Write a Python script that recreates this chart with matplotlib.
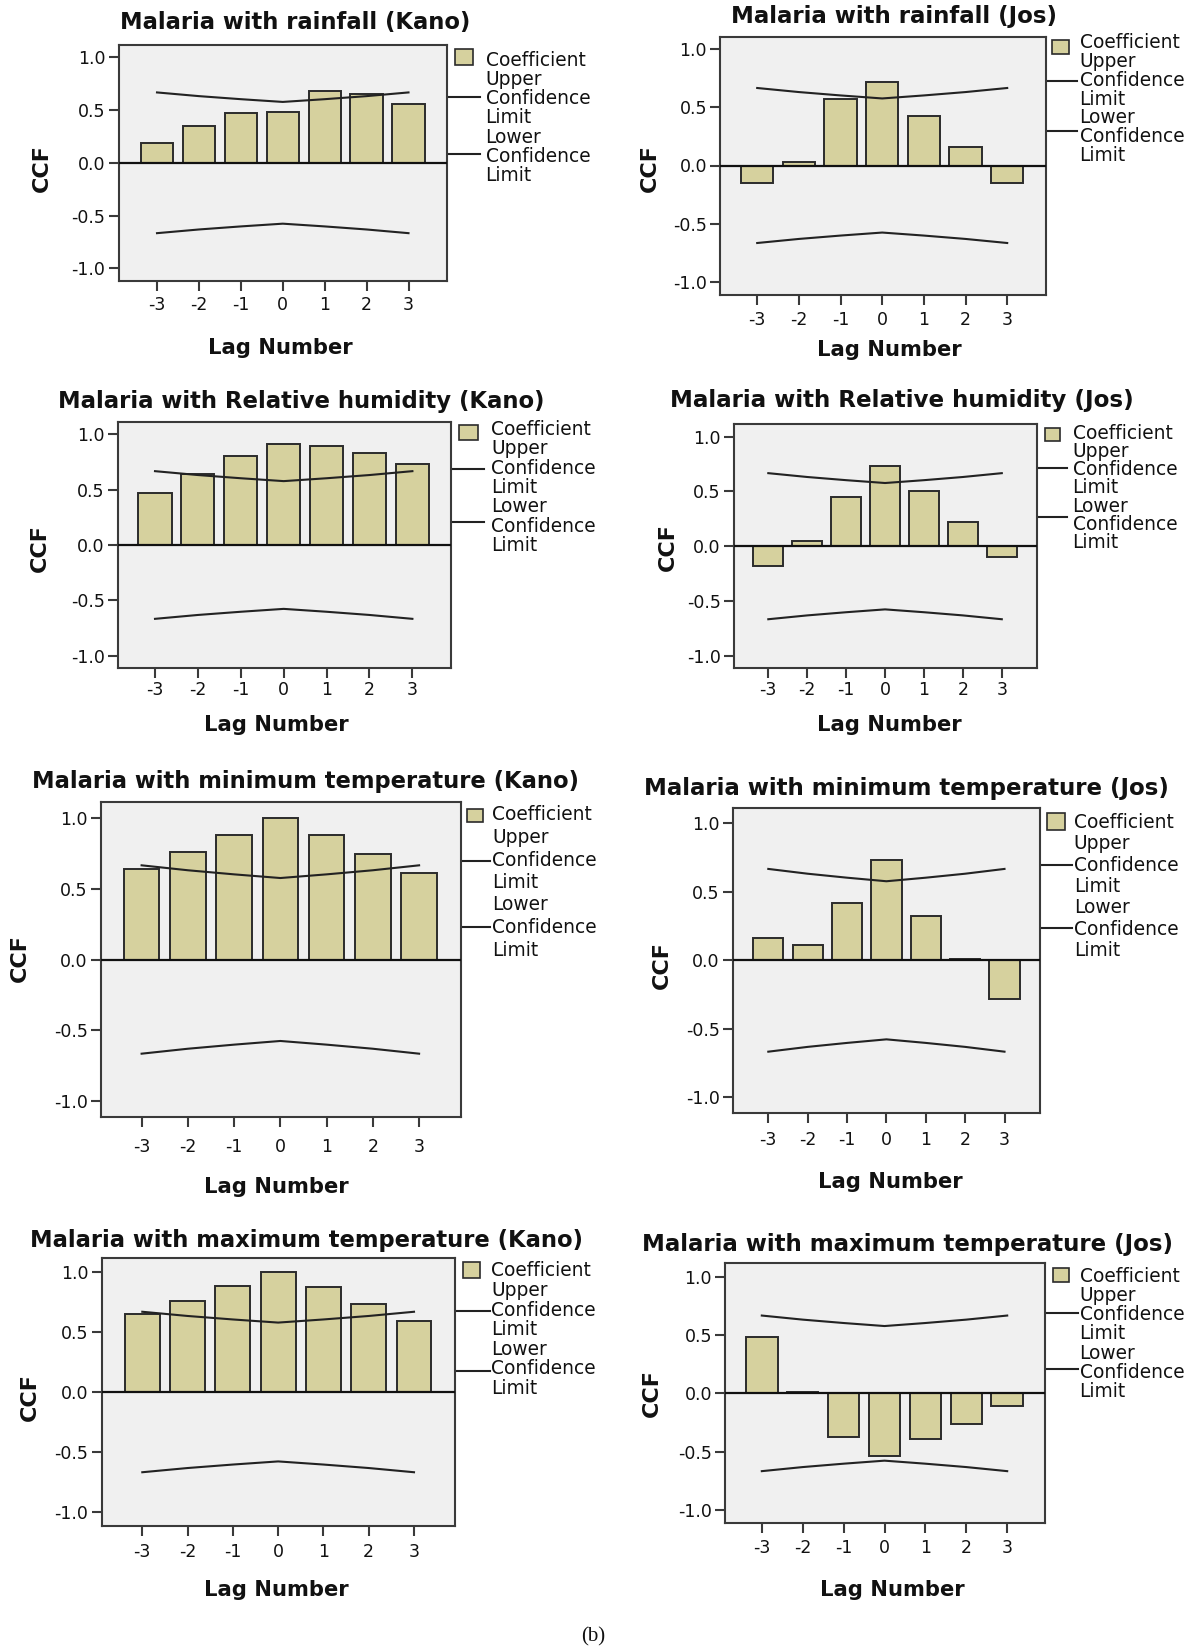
import numpy as np
import matplotlib.pyplot as plt
from matplotlib.patches import Rectangle

W, H = 1204, 1650

lags = [-3, -2, -1, 0, 1, 2, 3]
upper_limit = [0.667, 0.632, 0.603, 0.577, 0.603, 0.632, 0.667]
lower_limit = [-0.667, -0.632, -0.603, -0.577, -0.603, -0.632, -0.667]

rain_kano = [0.19, 0.35, 0.47, 0.48, 0.68, 0.65, 0.56]
rain_jos = [-0.15, 0.03, 0.57, 0.72, 0.43, 0.16, -0.15]
rh_kano = [0.47, 0.64, 0.80, 0.91, 0.89, 0.83, 0.73]
rh_jos = [-0.18, 0.05, 0.45, 0.73, 0.50, 0.22, -0.10]
tmin_kano = [0.64, 0.76, 0.88, 1.00, 0.88, 0.75, 0.61]
tmin_jos = [0.16, 0.11, 0.42, 0.73, 0.32, 0.01, -0.28]
tmax_kano = [0.65, 0.76, 0.88, 1.00, 0.87, 0.73, 0.59]
tmax_jos = [0.48, 0.01, -0.37, -0.54, -0.39, -0.26, -0.11]

titles = [
    "Malaria with rainfall (Kano)",
    "Malaria with rainfall (Jos)",
    "Malaria with Relative humidity (Kano)",
    "Malaria with Relative humidity (Jos)",
    "Malaria with minimum temperature (Kano)",
    "Malaria with minimum temperature (Jos)",
    "Malaria with maximum temperature (Kano)",
    "Malaria with maximum temperature (Jos)",
]
series = [rain_kano, rain_jos, rh_kano, rh_jos, tmin_kano, tmin_jos, tmax_kano, tmax_jos]

y_ticks = [-1.0, -0.5, 0.0, 0.5, 1.0]
y_ticklabels = ["-1.0", "-0.5", "0.0", "0.5", "1.0"]
legend_labels = ["Coefficient", "Upper", "Confidence", "Limit", "Lower", "Confidence", "Limit"]

# panel geometry in pixels
# frame: left, top, right, bottom; anchors: x of lag -3, x of lag 3, y of 1.0, y of -1.0
frames = [
    (118.6, 45.0, 446.8, 281.0, 157.0, 408.5, 57.3, 268.3),
    (720.2, 37.0, 1045.7, 295.0, 757.2, 1007.2, 49.3, 281.7),
    (117.8, 421.7, 451.5, 667.7, 155.0, 412.4, 434.3, 655.7),
    (733.7, 424.3, 1037.2, 667.7, 768.3, 1001.8, 436.7, 655.7),
    (100.8, 802.3, 460.6, 1117.3, 141.6, 419.1, 818.3, 1100.7),
    (732.9, 808.3, 1040.3, 1112.7, 768.3, 1004.5, 823.3, 1097.3),
    (101.6, 1258.3, 454.7, 1525.7, 142.3, 414.0, 1271.7, 1512.3),
    (725.2, 1262.7, 1044.9, 1523.3, 761.8, 1007.2, 1276.7, 1510.0),
]
# title x, y, width; CCF x, y; "Lag Number" x, y; x tick label y
texts = [
    (295.6, 22.0, 350, 41.5, 168.0, 280.7, 348.0, 303.0),
    (893.9, 17.0, 327, 650.0, 168.0, 888.9, 350.0, 318.0),
    (301.0, 401.7, 487, 39.5, 548.0, 276.8, 725.0, 688.0),
    (902.0, 400.0, 467, 667.4, 546.7, 888.9, 725.0, 688.0),
    (305.0, 781.7, 548, 20.0, 958.0, 276.0, 1187.0, 1145.0),
    (906.2, 788.3, 528, 661.6, 965.0, 890.8, 1181.7, 1138.0),
    (307.0, 1240.0, 555, 29.7, 1396.7, 276.8, 1590.0, 1550.0),
    (907.2, 1245.0, 533, 652.0, 1393.0, 892.8, 1590.0, 1546.0),
]
# legend: swatch x0, x1, y0, y1; text x, first line y, line step; line end x, upper y, lower y
legends = [
    (454.7, 472.5, 49.0, 65.0, 485.6, 60.0, 19.3, 480.4, 97.0, 154.0),
    (1051.5, 1068.8, 40.0, 54.0, 1079.6, 42.7, 18.8, 1076.5, 80.7, 131.0),
    (458.7, 478.4, 425.0, 440.0, 491.0, 429.3, 19.4, 484.4, 469.0, 521.7),
    (1044.9, 1060.3, 427.7, 441.0, 1072.6, 433.3, 18.2, 1066.9, 467.7, 516.7),
    (467.4, 483.2, 809.0, 821.7, 492.3, 815.0, 22.5, 490.3, 860.7, 926.7),
    (1046.8, 1064.9, 813.3, 830.0, 1073.8, 822.3, 21.4, 1071.9, 865.0, 928.3),
    (462.6, 480.4, 1261.7, 1277.7, 491.0, 1271.0, 19.6, 490.3, 1311.0, 1371.0),
    (1052.6, 1068.8, 1267.7, 1281.7, 1079.6, 1276.0, 19.3, 1077.6, 1313.3, 1369.3),
]

bar_color = "#D6D19E"
edge = "#2b2b2b"
frame_color = "#3a3a3a"
plot_bg = "#F0F0F0"

plt.rcParams["font.family"] = "DejaVu Sans"

fig = plt.figure(figsize=(W / 100, H / 100), dpi=100)
fig.patch.set_facecolor("white")

# overlay in pixel coordinates for titles, axis names and legends
ov = fig.add_axes([0, 0, 1, 1])
ov.set_xlim(0, W)
ov.set_ylim(H, 0)
ov.axis("off")

renderer = fig.canvas.get_renderer()

for i in range(8):
    L, T, R, B, xm3, x3, y1, ym1 = frames[i]
    tx, ty, tw, cx, cy, lx, ly, tly = texts[i]
    sx0, sx1, sy0, sy1, ltx, lty, lstep, lx1, uy, lwy = legends[i]

    ax = fig.add_axes([L / W, 1 - B / H, (R - L) / W, (B - T) / H])
    ax.set_facecolor(plot_bg)

    s = (x3 - xm3) / 6
    u = (ym1 - y1) / 2
    y0 = (y1 + ym1) / 2
    ax.set_xlim(-3 - (xm3 - L) / s, 3 + (R - x3) / s)
    ax.set_ylim(-(B - y0) / u, (y0 - T) / u)

    ax.bar(lags, series[i], width=0.77, color=bar_color, edgecolor=edge,
           linewidth=1.4, zorder=2)
    ax.plot(lags, upper_limit, color="#222222", lw=1.5, zorder=3)
    ax.plot(lags, lower_limit, color="#222222", lw=1.5, zorder=3)
    ax.axhline(0, color="#111111", lw=1.6, zorder=4)

    for sp in ax.spines.values():
        sp.set_color(frame_color)
        sp.set_linewidth(1.5)

    ax.set_xticks(lags)
    ax.set_xticklabels([str(v) for v in lags])
    ax.set_yticks(y_ticks)
    ax.set_yticklabels(y_ticklabels)
    tick_len = 7
    xpad = max(1.0, (tly - 6.5 - B - tick_len * 1.389) / 1.389)
    ax.tick_params(axis="both", direction="out", length=tick_len, width=1.5,
                   color=frame_color, labelsize=12.5, labelcolor="#111111")
    ax.tick_params(axis="x", pad=xpad)
    ax.tick_params(axis="y", pad=2.5)

    t = ov.text(tx, ty, titles[i], ha="center", va="center", fontsize=16,
                fontweight="bold", color="#111111")
    w = t.get_window_extent(renderer).width
    t.set_fontsize(16 * tw / w)

    ov.text(cx, cy, "CCF", ha="center", va="center", rotation=90,
            fontsize=16, fontweight="bold", color="#111111")
    ov.text(lx, ly, "Lag Number", ha="center", va="center",
            fontsize=15.2, fontweight="bold", color="#111111")

    ov.add_patch(Rectangle((sx0, sy0), sx1 - sx0, sy1 - sy0, facecolor=bar_color,
                           edgecolor=edge, lw=1.2))
    for k, lab in enumerate(legend_labels):
        ov.text(ltx, lty + k * lstep, lab, ha="left", va="center",
                fontsize=13.4, color="#111111")
    ov.plot([R, lx1], [uy, uy], color="#222222", lw=1.5)
    ov.plot([R, lx1], [lwy, lwy], color="#222222", lw=1.5)

ov.text(593, 1637, "(b)", ha="center", va="center", fontsize=15,
        family="Liberation Serif", color="#111111")

fig.savefig("out.png", dpi=100)
